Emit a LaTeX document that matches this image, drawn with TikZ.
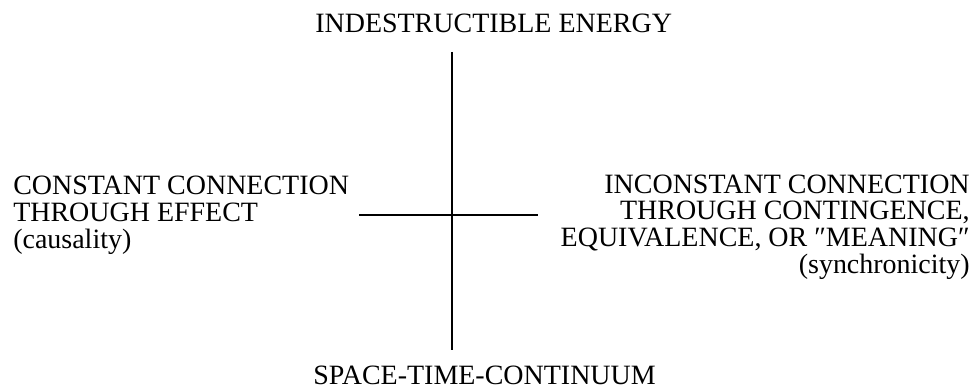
\documentclass[tikz,border=0pt]{standalone}
\usepackage{fontspec}
\setmainfont{Liberation Serif}
\usetikzlibrary{positioning}

\begin{document}
\begin{tikzpicture}[x=1cm,y=1cm,
  lbl/.style={inner sep=0pt,font=\fontsize{19.9}{19.2}\selectfont},
  axis/.style={line width=1.3pt}]
\useasboundingbox (0,0) rectangle (24.375,9.725);
% labels at the four ends
\node[lbl,anchor=base west] (energy) at (7.875,8.9) {INDESTRUCTIBLE ENERGY};
\node[lbl,anchor=base west] (spacetime) at (7.825,0.125) {SPACE-TIME-CONTINUUM};
\node[lbl,anchor=north west,align=left] (causal) at (0.325,5.33)
  {CONSTANT CONNECTION\\THROUGH EFFECT\\(causality)};
\node[lbl,anchor=north east,align=right] (synchro) at (24.25,5.37)
  {INCONSTANT CONNECTION\\THROUGH CONTINGENCE,\\EQUIVALENCE, OR ″MEANING″\\(synchronicity)};
% the cross
\coordinate (vtop) at (11.3,8.425);
\coordinate (vbot) at (11.3,0.975);
\coordinate (hlft) at (8.975,4.35);
\coordinate (hrgt) at (13.45,4.35);
\draw[axis] (vtop) -- (vbot);
\draw[axis] (hlft) -- (hrgt);
\end{tikzpicture}
\end{document}
